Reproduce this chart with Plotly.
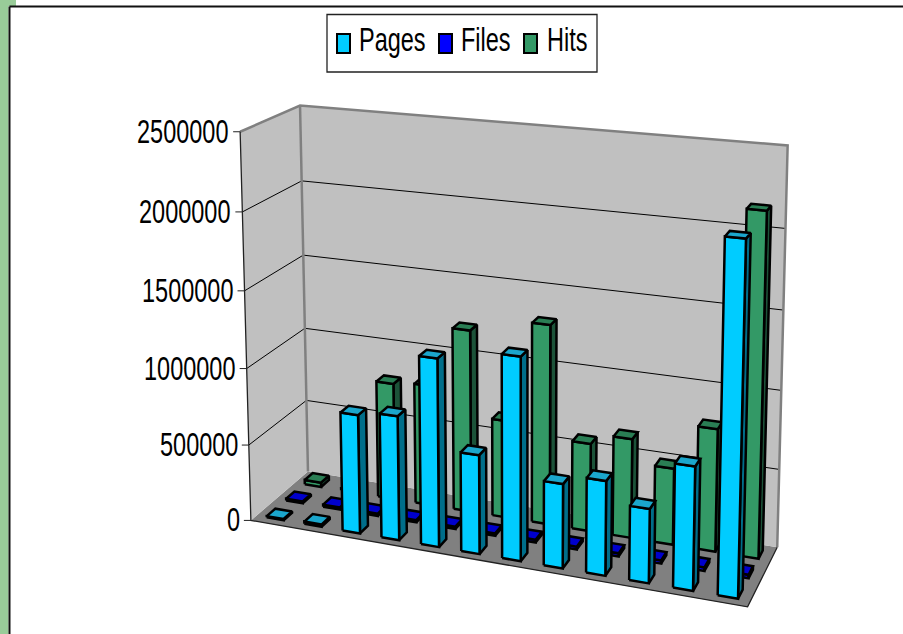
import numpy as np
import plotly.graph_objects as go

categories = list(range(1, 13))
pages = [8000, 15000, 770000, 800000, 1200000, 630000, 1280000, 530000, 590000, 460000, 760000, 2130000]
files = [12000, 14000, 15000, 15000, 15000, 15000, 18000, 18000, 20000, 20000, 22000, 22000]
hits = [30000, 12000, 780000, 800000, 1200000, 640000, 1300000, 570000, 640000, 490000, 780000, 2150000]
series_names = ["Pages", "Files", "Hits"]
tick_values = [0, 500000, 1000000, 1500000, 2000000, 2500000]
Z_MAX = 2500000
N_CAT = len(categories)
N_SER = len(series_names)

FRONT = ["#00CCFF", "#0000FF", "#339966"]
SIDE = ["#006E8A", "#00008A", "#1C5339"]
TOP = ["#1BA6CC", "#0000CC", "#2A7E54"]
BAR_W, BAR_D = 0.45, 0.44

# Where the chart box's corners sit on the page (x-fraction, depth-fraction, height-fraction -> pixel).
FRAME = [((0,0,0),(251,520)),((0,1,0),(308,472)),((1,1,0),(777,547)),((1,0,0),(748,607)),
         ((0,0,1),(240,133)),((0,1,1),(301,105)),((1,1,1),(788,145)),
         ((0,1,.8),(301,181)),((0,0,.8),(242,211)),((1,1,.8),(785,229))]
A = []
for (a,b,c),(u,v) in FRAME:
    A.append([a,b,c,1,0,0,0,0,-u*a,-u*b,-u*c,-u])
    A.append([0,0,0,0,a,b,c,1,-v*a,-v*b,-v*c,-v])
P = np.linalg.svd(np.array(A,float))[2][-1].reshape(3,4)

def pr(cat, ser, val):
    h = P @ np.array([cat/N_CAT, ser/N_SER, val/Z_MAX, 1.0])
    return float(h[0]/h[2]), float(h[1]/h[2])

def poly_trace(polys, fill, name, line_color="black", width=2.5):
    xs, ys = [], []
    for poly in polys:
        pts = [pr(*q) for q in poly] + [pr(*poly[0])]
        xs += [p[0] for p in pts] + [None]
        ys += [p[1] for p in pts] + [None]
    return go.Scatter(x=xs, y=ys, mode="lines", fill="toself", fillcolor=fill, name=name,
                      line=dict(color=line_color, width=width), hoverinfo="skip", showlegend=False)

def line_trace(segs, color, width):
    xs, ys = [], []
    for seg in segs:
        pts = [pr(*q) for q in seg]
        xs += [p[0] for p in pts] + [None]
        ys += [p[1] for p in pts] + [None]
    return go.Scatter(x=xs, y=ys, mode="lines", line=dict(color=color, width=width), hoverinfo="skip", showlegend=False)

traces = []
traces.append(poly_trace([[(0,0,0),(N_CAT,0,0),(N_CAT,N_SER,0),(0,N_SER,0)]], "#808080", "floor", "#808080", 0))
traces.append(poly_trace([[(0,0,0),(0,N_SER,0),(0,N_SER,Z_MAX),(0,0,Z_MAX)]], "#C0C0C0", "side wall", "#C0C0C0", 0))
traces.append(poly_trace([[(0,N_SER,0),(N_CAT,N_SER,0),(N_CAT,N_SER,Z_MAX),(0,N_SER,Z_MAX)]], "#C0C0C0", "back wall", "#C0C0C0", 0))
traces.append(line_trace([[(0,0,t),(0,N_SER,t),(N_CAT,N_SER,t)] for t in tick_values[1:-1]], "black", 1))
traces.append(line_trace([[(0,0,Z_MAX),(0,N_SER,Z_MAX),(N_CAT,N_SER,Z_MAX),(N_CAT,N_SER,0)],
                          [(0,N_SER,0),(0,N_SER,Z_MAX)]], "#808080", 2.5))
traces.append(line_trace([[(0,0,Z_MAX),(0,0,0),(N_CAT,0,0),(N_CAT,N_SER,0)]], "#222222", 1.3))

rows = [pages, files, hits]
for s in [2, 1, 0]:
    fr, si, to = [], [], []
    for i, v in enumerate(rows[s]):
        x0 = i + (1-BAR_W)/2; x1 = x0 + BAR_W
        y0 = s + (1-BAR_D)/2; y1 = y0 + BAR_D
        fr.append([(x0,y0,0),(x1,y0,0),(x1,y0,v),(x0,y0,v)])
        si.append([(x1,y0,0),(x1,y1,0),(x1,y1,v),(x1,y0,v)])
        to.append([(x0,y0,v),(x1,y0,v),(x1,y1,v),(x0,y1,v)])
    traces.append(poly_trace(si, SIDE[s], series_names[s]))
    traces.append(poly_trace(fr, FRONT[s], series_names[s]))
    traces.append(poly_trace(to, TOP[s], series_names[s]))

# value-axis ticks and labels
tx, ty = [], []
annotations = []
FONT = dict(family="Liberation Sans, Arial, sans-serif", size=23.5, color="black")
for t in tick_values:
    px, py = pr(0, 0, t)
    tx += [px-7, px, None]; ty += [py, py, None]
    annotations.append(dict(x=px-9, y=py, xref="x", yref="y", text=str(t), showarrow=False,
                            xanchor="right", yanchor="middle", font=FONT))
traces.append(go.Scatter(x=tx, y=ty, mode="lines", line=dict(color="#222222", width=1), hoverinfo="skip", showlegend=False))

# legend
shapes = [dict(type="rect", x0=0, x1=8.5, y0=0, y1=634, fillcolor="#99CC99", line_width=0, layer="below"),
          dict(type="rect", x0=0, x1=16, y0=0, y1=6, fillcolor="#99CC99", line_width=0, layer="below"),
          dict(type="line", x0=9.5, x1=903, y0=6.5, y1=6.5, line=dict(color="#111111", width=2), layer="above"),
          dict(type="line", x0=9.5, x1=9.5, y0=6.5, y1=634, line=dict(color="#111111", width=2), layer="above"),
          dict(type="rect", x0=327, x1=597, y0=14.5, y1=72, fillcolor="white", line=dict(color="#222222", width=1.3), layer="above")]
swatch_x = [337, 439, 524]
text_x = [357, 459, 545]
for name, col, sx, tx_ in zip(series_names, FRONT, swatch_x, text_x):
    shapes.append(dict(type="rect", x0=sx, x1=sx+13, y0=34, y1=53, fillcolor=col, line=dict(color="black", width=2), layer="above"))
    annotations.append(dict(x=tx_, y=39.5, xref="x", yref="y", text=name, showarrow=False,
                            xanchor="left", yanchor="middle", font=FONT))

fig = go.Figure(traces)
fig.update_layout(width=903, height=634, margin=dict(l=0,r=0,t=0,b=0), paper_bgcolor="white", plot_bgcolor="white",
    xaxis=dict(visible=False, range=[0,903], fixedrange=True),
    yaxis=dict(visible=False, range=[634,0], fixedrange=True),
    shapes=shapes, annotations=annotations, showlegend=False)

post = """
document.body.style.margin='0';
function stretch(){document.querySelectorAll('.annotation-text').forEach(function(t){
 var b=t.getBBox();var c=b.y+b.height/2;
 t.setAttribute('transform','translate(0,'+c+') scale(1,1.4) translate(0,'+(-c)+')');});}
stretch();setTimeout(stretch,50);setTimeout(stretch,300);
"""
fig.write_html("out.html", config=dict(displayModeBar=False), post_script=post)
